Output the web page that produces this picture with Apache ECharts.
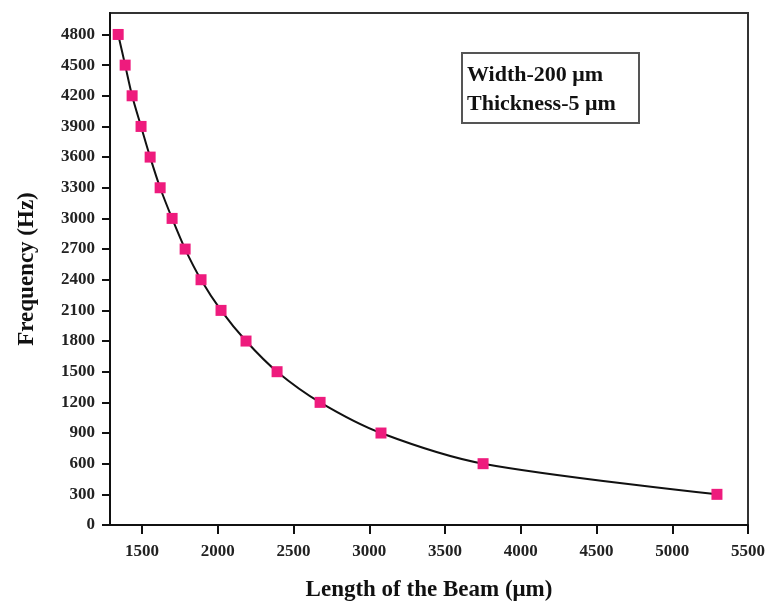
<!DOCTYPE html>
<html>
<head>
<meta charset="utf-8">
<script src="https://cdn.jsdelivr.net/npm/echarts@6/dist/echarts.min.js"></script>
<style>html,body{margin:0;padding:0;background:#fff}#c{width:769px;height:601px}</style>
</head>
<body>
<div id="c"></div>
<script>
// Data
var beamLength = [1342, 1388, 1434, 1493, 1553, 1619, 1698, 1784, 1889, 2021, 2186, 2391, 2675, 3077, 3751, 5295];
var frequency  = [4800, 4500, 4200, 3900, 3600, 3300, 3000, 2700, 2400, 2100, 1800, 1500, 1200, 900, 600, 300];
var xTicks = [1500, 2000, 2500, 3000, 3500, 4000, 4500, 5000, 5500];
var yTicks = [0, 300, 600, 900, 1200, 1500, 1800, 2100, 2400, 2700, 3000, 3300, 3600, 3900, 4200, 4500, 4800];
var annotation = ['Width-200 \u03bcm', 'Thickness-5 \u03bcm'];

var FONT = '"Liberation Serif", "Times New Roman", serif';
var plain = function (v) { return String(v); };
var chart = echarts.init(document.getElementById('c'));
chart.setOption({
  animation: false,
  backgroundColor: '#fff',
  grid: {left: 110, right: 21, top: 13, bottom: 76, show: true, borderColor: '#333', borderWidth: 2, outerBoundsMode: 'none', containLabel: false},
  xAxis: {
    type: 'value', min: 1288, max: 5500,
    name: 'Length of the Beam (\u03bcm)', nameLocation: 'middle', nameGap: 54,
    nameTextStyle: {fontFamily: FONT, fontWeight: 'bold', fontSize: 23, color: '#111'},
    axisLine: {show: true, lineStyle: {color: '#111', width: 2}},
    axisTick: {show: true, inside: false, length: 9, lineStyle: {color: '#111', width: 2}, customValues: xTicks},
    axisLabel: {fontFamily: FONT, fontWeight: 'bold', fontSize: 17, color: '#222', margin: 18, customValues: xTicks, formatter: plain},
    splitLine: {show: false}
  },
  yAxis: {
    type: 'value', min: 0, max: 5010,
    name: 'Frequency (Hz)', nameLocation: 'middle', nameGap: 71, nameRotate: 90,
    nameTextStyle: {fontFamily: FONT, fontWeight: 'bold', fontSize: 23, color: '#111'},
    axisLine: {show: true, lineStyle: {color: '#111', width: 2}},
    axisTick: {show: true, inside: false, length: 8, lineStyle: {color: '#111', width: 2}, customValues: yTicks},
    axisLabel: {fontFamily: FONT, fontWeight: 'bold', fontSize: 17, color: '#222', margin: 15, customValues: yTicks, formatter: plain},
    splitLine: {show: false}
  },
  series: [{
    type: 'line',
    data: beamLength.map(function (x, i) { return [x, frequency[i]]; }),
    smooth: 0.3,
    symbol: 'rect', symbolSize: 11,
    lineStyle: {color: '#111', width: 2},
    itemStyle: {color: '#ee1b7d', borderWidth: 0},
    z: 3
  }],
  graphic: [
    {type: 'rect', shape: {x: 462, y: 53, width: 177, height: 70}, style: {fill: '#fff', stroke: '#555', lineWidth: 2}},
    {type: 'text', x: 467, y: 75, style: {text: annotation[0], font: 'bold 22px ' + FONT, fill: '#111', textVerticalAlign: 'middle'}},
    {type: 'text', x: 467, y: 104, style: {text: annotation[1], font: 'bold 22px ' + FONT, fill: '#111', textVerticalAlign: 'middle'}}
  ]
});
</script>
</body>
</html>
